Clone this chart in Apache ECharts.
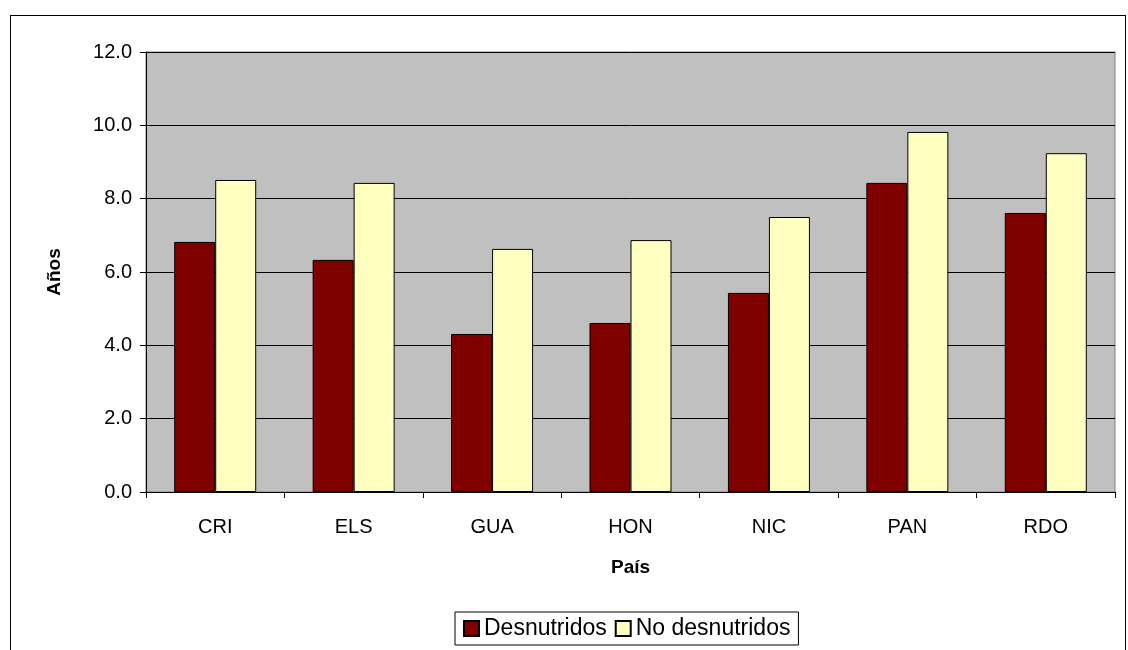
<!DOCTYPE html>
<html>
<head>
<meta charset="utf-8">
<script src="https://cdn.jsdelivr.net/npm/echarts@6/dist/echarts.min.js"></script>
<style>
html,body{margin:0;padding:0;background:#fff;}
#frame{position:absolute;left:10px;top:15px;width:1116px;height:650px;border:1px solid #000;box-sizing:border-box;}
#chart{position:absolute;left:0;top:0;width:1128px;height:650px;}
</style>
</head>
<body>
<div id="frame"></div>
<div id="chart"></div>
<script>
var paises = ['CRI', 'ELS', 'GUA', 'HON', 'NIC', 'PAN', 'RDO'];
var desnutridos = [6.82, 6.33, 4.31, 4.61, 5.43, 8.43, 7.61];
var noDesnutridos = [8.51, 8.43, 6.63, 6.87, 7.5, 9.82, 9.24];

var myChart = echarts.init(document.getElementById('chart'));
var option = {
  animation: false,
  textStyle: {fontFamily: 'Liberation Sans, Arial, sans-serif'},
  grid: {left: 146, right: 13, top: 52, bottom: 158, backgroundColor: '#C0C0C0', show: true, borderColor: '#808080', borderWidth: 1},
  legend: {
    bottom: 5, left: 455,
    padding: [5, 8], borderColor: '#000', borderWidth: 1,
    icon: 'rect', itemWidth: 15, itemHeight: 15, itemGap: 8,
    textStyle: {fontSize: 23, color: '#000'},
    data: ['Desnutridos', 'No desnutridos']
  },
  xAxis: {
    type: 'category', data: paises,
    name: 'País', nameLocation: 'middle', nameGap: 66,
    nameTextStyle: {fontSize: 19, fontWeight: 'bold', color: '#000'},
    axisLine: {lineStyle: {color: '#000'}},
    axisTick: {show: true, length: 6, lineStyle: {color: '#000'}},
    axisLabel: {fontSize: 20, color: '#000', margin: 25}
  },
  yAxis: {
    type: 'value', min: 0, max: 12, interval: 2,
    name: 'Años', nameLocation: 'middle', nameGap: 82,
    nameTextStyle: {fontSize: 19, fontWeight: 'bold', color: '#000'},
    axisLine: {show: true, lineStyle: {color: '#000'}},
    axisTick: {show: true, length: 6, inside: false, lineStyle: {color: '#000'}},
    axisLabel: {fontSize: 20, color: '#000', margin: 14, formatter: function (v) { return v.toFixed(1); }},
    splitLine: {lineStyle: {color: '#000', width: 1}}
  },
  series: [
    {name: 'Desnutridos', type: 'bar', data: desnutridos, barWidth: 41, barGap: '0%',
     itemStyle: {color: '#800000', borderColor: '#000', borderWidth: 1}},
    {name: 'No desnutridos', type: 'bar', data: noDesnutridos, barWidth: 41,
     itemStyle: {color: '#FFFFC0', borderColor: '#000', borderWidth: 1}}
  ]
};
myChart.setOption(option);
</script>
</body>
</html>
